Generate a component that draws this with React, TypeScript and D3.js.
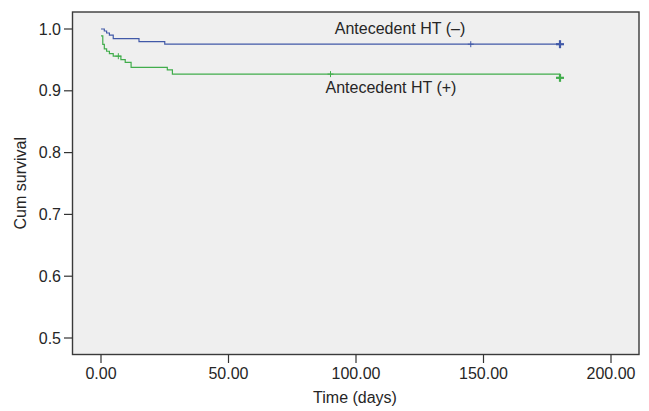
import React from "react";
import * as d3 from "d3";

// Antecedent HT (–)
const negTimes = [0, 1.3, 2.2, 3.3, 4.8, 14.9, 25, 180];
const negSurv = [1.0, 0.9968, 0.9935, 0.99, 0.9844, 0.9795, 0.9754, 0.9754];
const negCensorTimes = [145];
const negEnd = { t: 180, s: 0.9754 };

// Antecedent HT (+)
const posTimes = [0, 0.7, 1.3, 2.2, 3.3, 4.8, 7.8, 9.5, 11.8, 26, 28, 180];
const posSurv = [0.989, 0.975, 0.968, 0.964, 0.96, 0.956, 0.9504, 0.946, 0.938, 0.934, 0.927, 0.927];
const posCensorTimes = [6.8, 90];
const posEnd = { t: 180, s: 0.921 };

const xTicks = [0, 50, 100, 150, 200];
const yTicks = [0.5, 0.6, 0.7, 0.8, 0.9, 1.0];

const W = 649;
const H = 411;
const plot = { left: 72.5, right: 639, top: 12, bottom: 354.5 };
const BLUE = "#4159a8";
const GREEN = "#41ad4c";
const TEXT = "#262626";
const FONT = "'Liberation Sans', Arial, sans-serif";
const FS = 16;

export default function App() {
  const x = d3.scaleLinear().domain([0, 200]).range([101, 611]);
  const y = d3.scaleLinear().domain([0.5, 1.0]).range([338, 29]);
  const line = d3
    .line<[number, number]>()
    .x((d) => x(d[0]))
    .y((d) => y(d[1]))
    .curve(d3.curveStepAfter);

  const negPts: [number, number][] = negTimes.map((t, i) => [t, negSurv[i]]);
  const posPts: [number, number][] = posTimes.map((t, i) => [t, posSurv[i]]);

  const survAt = (times: number[], surv: number[], t: number) => {
    let v = surv[0];
    for (let i = 0; i < times.length; i++) if (times[i] <= t) v = surv[i];
    return v;
  };

  const plus = (cx: number, cy: number, r: number, color: string, sw: number, key: string) => (
    <g key={key} stroke={color} strokeWidth={sw}>
      <line x1={cx - r} x2={cx + r} y1={cy} y2={cy} />
      <line x1={cx} x2={cx} y1={cy - r} y2={cy + r} />
    </g>
  );

  return (
    <svg
      width={W}
      height={H}
      style={{ position: "absolute", left: 0, top: 0, background: "#fff" }}
      fontFamily={FONT}
    >
      <rect
        x={plot.left}
        y={plot.top}
        width={plot.right - plot.left}
        height={plot.bottom - plot.top}
        fill="#efefef"
        stroke="#3a3a3a"
        strokeWidth={1.4}
      />
      {/* y ticks */}
      {yTicks.map((t) => (
        <g key={"y" + t}>
          <line x1={64} x2={plot.left} y1={y(t)} y2={y(t)} stroke="#333" strokeWidth={1.2} />
          <text x={61} y={y(t) + 5.5} textAnchor="end" fontSize={FS} fill={TEXT}>
            {t.toFixed(1)}
          </text>
        </g>
      ))}
      {/* x ticks */}
      {xTicks.map((t) => (
        <g key={"x" + t}>
          <line x1={x(t)} x2={x(t)} y1={plot.bottom} y2={363} stroke="#333" strokeWidth={1.2} />
          <text x={x(t)} y={379} textAnchor="middle" fontSize={FS} fill={TEXT}>
            {t.toFixed(2)}
          </text>
        </g>
      ))}
      <text x={355} y={403} textAnchor="middle" fontSize={FS} fill={TEXT}>
        Time (days)
      </text>
      <text
        transform={`translate(26,${(plot.top + plot.bottom) / 2}) rotate(-90)`}
        textAnchor="middle"
        fontSize={FS}
        fill={TEXT}
      >
        Cum survival
      </text>

      <path d={line(negPts) || ""} fill="none" stroke={BLUE} strokeWidth={1.2} />
      <path d={line(posPts) || ""} fill="none" stroke={GREEN} strokeWidth={1.2} />

      {negCensorTimes.map((t, i) =>
        plus(x(t), y(survAt(negTimes, negSurv, t)), 3, BLUE, 1, "nc" + i)
      )}
      {posCensorTimes.map((t, i) =>
        plus(x(t), y(survAt(posTimes, posSurv, t)), 3, GREEN, 1, "pc" + i)
      )}
      {plus(x(negEnd.t), y(negEnd.s), 4, BLUE, 2.2, "ne")}
      {plus(x(posEnd.t), y(posEnd.s), 4, GREEN, 2.2, "pe")}

      <text x={400} y={34} textAnchor="middle" fontSize={FS} fill={TEXT}>
        Antecedent HT (–)
      </text>
      <text x={391} y={93} textAnchor="middle" fontSize={FS} fill={TEXT}>
        Antecedent HT (+)
      </text>
    </svg>
  );
}
